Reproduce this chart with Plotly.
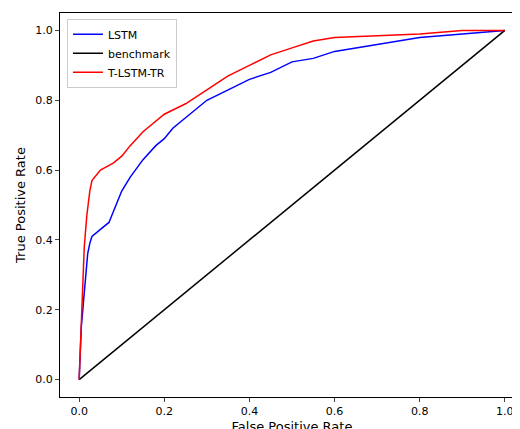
import plotly.graph_objects as go

lstm_fpr = [0,0.002,0.005,0.01,0.015,0.02,0.025,0.03,0.05,0.07,0.08,0.1,0.12,0.15,0.18,0.2,0.22,0.25,0.28,0.3,0.35,0.4,0.45,0.5,0.55,0.6,0.65,0.7,0.75,0.8,0.9,1.0]
lstm_tpr = [0,0.05,0.15,0.22,0.3,0.36,0.39,0.41,0.43,0.45,0.48,0.54,0.58,0.63,0.67,0.69,0.72,0.75,0.78,0.80,0.83,0.86,0.88,0.91,0.92,0.94,0.95,0.96,0.97,0.98,0.99,1.0]
bench = [0, 1]
tr_fpr = [0,0.003,0.007,0.012,0.018,0.025,0.03,0.05,0.08,0.1,0.12,0.15,0.2,0.25,0.3,0.35,0.4,0.45,0.5,0.55,0.6,0.7,0.8,0.9,1.0]
tr_tpr = [0,0.1,0.25,0.38,0.47,0.54,0.57,0.6,0.62,0.64,0.67,0.71,0.76,0.79,0.83,0.87,0.9,0.93,0.95,0.97,0.98,0.985,0.99,1.0,1.0]

fig = go.Figure()
fig.add_trace(go.Scatter(x=lstm_fpr, y=lstm_tpr, mode="lines", name="LSTM", line=dict(color="blue", width=1.5)))
fig.add_trace(go.Scatter(x=bench, y=bench, mode="lines", name="benchmark", line=dict(color="black", width=1.5)))
fig.add_trace(go.Scatter(x=tr_fpr, y=tr_tpr, mode="lines", name="T-LSTM-TR", line=dict(color="red", width=1.5)))

ax = dict(showline=True, linecolor="black", linewidth=1, mirror=True, ticks="outside", ticklen=4,
          showgrid=False, zeroline=False, tickformat=".1f", dtick=0.2, tickfont=dict(size=11, color="black"))
fig.update_layout(
    width=520, height=429, plot_bgcolor="white", paper_bgcolor="white",
    margin=dict(l=52, r=4, t=5, b=40, autoexpand=False),
    font=dict(family="DejaVu Sans", size=11, color="black"),
    xaxis=dict(ax, range=[-0.045, 1.045], title=dict(text="False Positive Rate", standoff=4)),
    yaxis=dict(ax, range=[-0.05, 1.05], title=dict(text="True Positive Rate", standoff=6)),
    legend=dict(x=0.015, y=0.985, xanchor="left", yanchor="top", bgcolor="white",
                bordercolor="#cccccc", borderwidth=1, font=dict(size=11)),
)
fig.write_html("out.html")
